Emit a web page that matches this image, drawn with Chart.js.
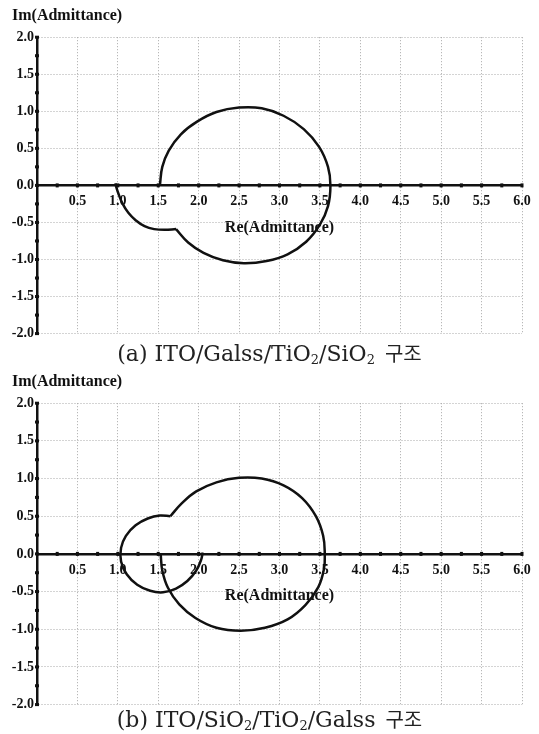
<!DOCTYPE html>
<html>
<head>
<meta charset="utf-8">
<script src="https://cdn.jsdelivr.net/npm/chart.js@4.4.0/dist/chart.umd.min.js"></script>
<style>
  body { margin: 0; background: #fff; width: 539px; height: 734px; position: relative; overflow: hidden; }
  canvas { position: absolute; left: 0; }
  .cap { position: absolute; left: 0; width: 539px; text-align: center; font-family: "DejaVu Serif", serif; font-size: 22px; line-height: 26px; color: #222; }
  .cap sub { font-size: 13px; vertical-align: -3px; line-height: 0; }
  .cap .ko { font-family: "Noto Sans CJK KR", sans-serif; font-size: 20px; margin-left: 10px; }
</style>
</head>
<body>
<canvas id="chartA" width="539" height="345" style="top:0px"></canvas>
<div class="cap" style="top:340px">(a) ITO/Galss/TiO<sub>2</sub>/SiO<sub>2</sub><span class="ko">구조</span></div>
<canvas id="chartB" width="539" height="350" style="top:366px"></canvas>
<div class="cap" style="top:706px">(b) ITO/SiO<sub>2</sub>/TiO<sub>2</sub>/Galss<span class="ko">구조</span></div>

<script>
// (a) ITO/Galss/TiO2/SiO2 : big loop from the glass point to the cusp, then the last arc
const reA1 = [1.52, 1.55, 1.63, 1.78, 1.98, 2.22, 2.50, 2.78, 3.05, 3.30, 3.49, 3.60, 3.63, 3.60, 3.50, 3.33, 3.10, 2.84, 2.56, 2.30, 2.06, 1.87, 1.72];
const imA1 = [0.00, 0.25, 0.47, 0.69, 0.86, 0.99, 1.05, 1.04, 0.94, 0.76, 0.52, 0.25, 0.00, -0.28, -0.53, -0.76, -0.93, -1.02, -1.05, -1.01, -0.91, -0.77, -0.59];
const reA2 = [1.72, 1.58, 1.45, 1.33, 1.22, 1.13, 1.06, 1.01, 0.98, 0.97];
const imA2 = [-0.59, -0.60, -0.59, -0.55, -0.47, -0.37, -0.25, -0.12, -0.02, 0.03];

// (b) ITO/SiO2/TiO2/Galss : big loop, then the small loop
const reB1 = [1.53, 1.55, 1.62, 1.76, 1.96, 2.22, 2.52, 2.82, 3.10, 3.32, 3.48, 3.55, 3.56, 3.54, 3.45, 3.28, 3.05, 2.78, 2.50, 2.22, 1.97, 1.79, 1.65];
const imB1 = [0.00, -0.22, -0.45, -0.67, -0.85, -0.98, -1.02, -0.98, -0.87, -0.68, -0.44, -0.20, 0.00, 0.24, 0.50, 0.74, 0.91, 1.00, 1.01, 0.95, 0.83, 0.67, 0.50];
const reB2 = [1.65, 1.52, 1.37, 1.22, 1.10, 1.04, 1.04, 1.11, 1.24, 1.40, 1.56, 1.72, 1.86, 1.97, 2.03, 2.05];
const imB2 = [0.50, 0.51, 0.47, 0.38, 0.24, 0.08, -0.10, -0.27, -0.41, -0.49, -0.51, -0.46, -0.36, -0.22, -0.08, 0.02];

const xTicksStep = 0.5;
const yTicksStep = 0.5;

const serifBold = (size) => ({ family: '"Liberation Serif", "Times New Roman", serif', size: size, weight: 'bold' });

// little dots on both axes every 0.25
const axisDots = {
  id: 'axisDots',
  afterDraw(chart) {
    const { ctx, scales: { x, y } } = chart;
    const x0 = x.getPixelForValue(0);
    const y0 = y.getPixelForValue(0);
    ctx.save();
    ctx.fillStyle = '#111';
    for (let k = 1; k <= 24; k++) {
      const px = x.getPixelForValue(k / 4);
      ctx.fillRect(px - 1.5, y0 - 2, 3, 4);
    }
    for (let k = -8; k <= 8; k++) {
      const py = y.getPixelForValue(k / 4);
      ctx.fillRect(x0 - 2, py - 1.5, 4, 3);
    }
    ctx.restore();
  }
};

function toPoints(re, im) {
  return re.map((v, i) => ({ x: v, y: im[i] }));
}

function drawChart(id, segments) {
  const ctx = document.getElementById(id).getContext('2d');
  new Chart(ctx, {
    type: 'scatter',
    data: {
      datasets: segments.map(s => ({
        data: toPoints(s[0], s[1]),
        showLine: true,
        borderColor: '#111',
        borderWidth: 2.5,
        pointRadius: 0,
        tension: 0.4,
        fill: false
      }))
    },
    options: {
      responsive: false,
      animation: false,
      devicePixelRatio: 1,
      layout: { padding: { top: 4, left: 12, right: 17, bottom: 8 } },
      plugins: {
        legend: { display: false },
        tooltip: { enabled: false },
        title: {
          display: true,
          text: 'Im(Admittance)',
          align: 'start',
          color: '#111',
          font: serifBold(16),
          padding: { top: 2, bottom: 12 }
        }
      },
      scales: {
        x: {
          type: 'linear',
          min: 0,
          max: 6,
          position: { y: 0 },
          ticks: {
            stepSize: xTicksStep,
            autoSkip: false,
            maxRotation: 0,
            padding: 8,
            color: '#111',
            font: serifBold(14),
            callback: v => v === 0 ? '' : v.toFixed(1)
          },
          grid: { color: '#a8a8a8', lineWidth: 1, drawTicks: false },
          border: { color: '#111', width: 2.5, dash: [1, 2] },
          title: {
            display: true,
            text: 'Re(Admittance)',
            color: '#111',
            font: serifBold(16),
            padding: { top: 0, bottom: 0 }
          }
        },
        y: {
          type: 'linear',
          min: -2,
          max: 2,
          position: 'left',
          afterFit: s => { s.width = 25; },
          ticks: {
            stepSize: yTicksStep,
            padding: 3,
            color: '#111',
            font: serifBold(14),
            callback: v => v.toFixed(1)
          },
          grid: { color: '#a8a8a8', lineWidth: 1, drawTicks: false },
          border: { color: '#111', width: 2.5, dash: [1, 2] }
        }
      }
    },
    plugins: [axisDots]
  });
}

drawChart('chartA', [[reA1, imA1], [reA2, imA2]]);
drawChart('chartB', [[reB1, imB1], [reB2, imB2]]);
</script>
</body>
</html>
